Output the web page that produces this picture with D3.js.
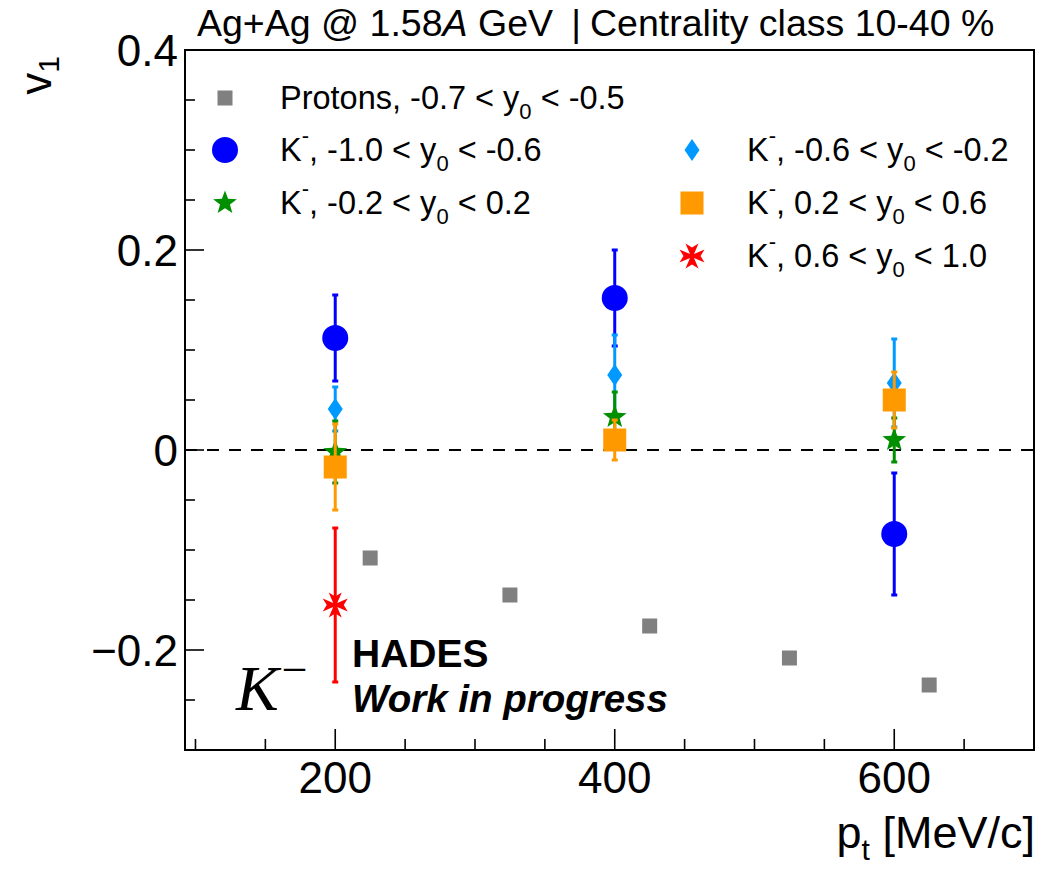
<!DOCTYPE html>
<html>
<head>
<meta charset="utf-8">
<script src="https://cdn.jsdelivr.net/npm/d3@7"></script>
<style>
  html, body { margin: 0; padding: 0; background: #fff; }
  svg { display: block; }
  text { font-family: "Liberation Sans", Arial, Helvetica, sans-serif; fill: #000; }
</style>
</head>
<body>
<svg id="chart" width="1055" height="871"></svg>
<script>
// ---------------- data ----------------
const kaonPt = [200, 400, 600];
const protonPt = [225, 325, 425, 525, 625];
const protonV1 = [-0.108, -0.145, -0.176, -0.208, -0.235];

const kBin1V1 = [0.112, 0.152, -0.084];   // -1.0 < y0 < -0.6
const kBin1Err = [0.043, 0.048, 0.061];
const kBin2V1 = [0.041, 0.075, 0.067];    // -0.6 < y0 < -0.2
const kBin2Err = [0.022, 0.040, 0.044];
const kBin3V1 = [-0.002, 0.033, 0.010];   // -0.2 < y0 < 0.2
const kBin3Err = [0.031, 0.025, 0.022];
const kBin4V1 = [-0.017, 0.010, 0.050];   // 0.2 < y0 < 0.6
const kBin4Err = [0.043, 0.020, 0.028];
const kBin5Pt = [200];                    // 0.6 < y0 < 1.0
const kBin5V1 = [-0.155];
const kBin5Err = [0.077];

const xMajorTicks = [200, 400, 600];
const yMajorTicks = [-0.2, 0, 0.2, 0.4];
const yTickLabels = ["\u22120.2", "0", "0.2", "0.4"];

// ---------------- layout ----------------
const svg = d3.select("#chart");
const L = 185, R = 1034, T = 50, B = 750;
const x = d3.scaleLinear().domain([92.5, 700]).range([L, R]);
const y = d3.scaleLinear().domain([-0.3, 0.4]).range([B, T]);

// frame
svg.append("rect").attr("x", L).attr("y", T).attr("width", R - L).attr("height", B - T)
  .attr("fill", "none").attr("stroke", "#000").attr("stroke-width", 2);

// x ticks (inside, upward)
const xMinor = d3.range(100, 701, 50);
svg.append("g").selectAll("line").data(xMinor).join("line")
  .attr("x1", d => x(d)).attr("x2", d => x(d))
  .attr("y1", B).attr("y2", d => xMajorTicks.includes(d) ? B - 21 : B - 11)
  .attr("stroke", "#000").attr("stroke-width", 1.6);
svg.append("g").selectAll("text").data(xMajorTicks).join("text")
  .attr("x", d => x(d)).attr("y", 793)
  .attr("text-anchor", "middle").attr("font-size", 44)
  .text(d => d);

// y ticks (inside, rightward)
const yMinor = d3.range(-6, 9).map(i => i * 0.05);
svg.append("g").selectAll("line").data(yMinor).join("line")
  .attr("x1", L).attr("x2", d => (Math.abs(Math.round(d * 100)) % 20 === 0) ? L + 19 : L + 10)
  .attr("y1", d => y(d)).attr("y2", d => y(d))
  .attr("stroke", "#000").attr("stroke-width", 1.6);
svg.append("g").selectAll("text").data(yMajorTicks).join("text")
  .attr("x", 178).attr("y", d => y(d) + 16)
  .attr("text-anchor", "end").attr("font-size", 44)
  .text((d, i) => yTickLabels[i]);

// zero dashed line
svg.append("line").attr("x1", L).attr("x2", R).attr("y1", y(0)).attr("y2", y(0))
  .attr("stroke", "#000").attr("stroke-width", 1.8).attr("stroke-dasharray", "12,10");

// axis titles
const yt = svg.append("text").attr("transform", "translate(51,56) rotate(-90)")
  .attr("text-anchor", "end").attr("font-size", 44);
yt.append("tspan").text("v");
yt.append("tspan").attr("font-size", 30).attr("dy", 8).text("1");

const xt = svg.append("text").attr("x", 1035).attr("y", 848)
  .attr("text-anchor", "end").attr("font-size", 45);
xt.append("tspan").text("p");
xt.append("tspan").attr("font-size", 30).attr("dy", 12).text("t");
xt.append("tspan").attr("dy", -12).text(" [MeV/c]");

// title
const titleFont = 37.5;
const tt = svg.append("text").attr("x", 197).attr("y", 36).attr("font-size", titleFont);
tt.append("tspan").text("Ag+Ag @ 1.58");
tt.append("tspan").attr("font-style", "italic").text("A");
tt.append("tspan").text(" GeV");
svg.append("text").attr("x", 576).attr("y", 36).attr("font-size", titleFont).attr("text-anchor", "middle").text("|");
svg.append("text").attr("x", 590).attr("y", 36).attr("font-size", titleFont).text("Centrality class 10-40 %");

// ---------------- marker shapes ----------------
function starPath(ro, ri) {
  const pts = [];
  for (let i = 0; i < 10; i++) {
    const a = -Math.PI / 2 + i * Math.PI / 5;
    const r = i % 2 === 0 ? ro : ri;
    pts.push([r * Math.cos(a), r * Math.sin(a)]);
  }
  return "M" + pts.map(p => p.join(",")).join("L") + "Z";
}
function crossPath(len, half, notch, waist) {
  // plus-shaped cross with flared, notched arms
  const base = [[-waist, -waist], [-half, -len], [0, -len + notch], [half, -len]];
  const pts = [];
  for (let k = 0; k < 4; k++) {
    const a = k * Math.PI / 2;
    base.forEach(q => pts.push([q[0] * Math.cos(a) - q[1] * Math.sin(a), q[0] * Math.sin(a) + q[1] * Math.cos(a)]));
  }
  return "M" + pts.map(q => q.map(v => v.toFixed(2)).join(",")).join("L") + "Z";
}
function drawMarker(g, type, color, cx, cy) {
  if (type === "circle") {
    g.append("circle").attr("cx", cx).attr("cy", cy).attr("r", 13).attr("fill", color);
  } else if (type === "square") {
    g.append("rect").attr("x", cx - 11.5).attr("y", cy - 11.5).attr("width", 23).attr("height", 23).attr("fill", color);
  } else if (type === "smallsquare") {
    g.append("rect").attr("x", cx - 7.5).attr("y", cy - 7.5).attr("width", 15).attr("height", 15).attr("fill", color);
  } else if (type === "diamond") {
    g.append("path").attr("d", `M${cx},${cy - 11}L${cx + 7.5},${cy}L${cx},${cy + 11}L${cx - 7.5},${cy}Z`).attr("fill", color);
  } else if (type === "star") {
    g.append("path").attr("transform", `translate(${cx},${cy})`).attr("d", starPath(12.5, 5.2)).attr("fill", color);
  } else if (type === "cross") {
    g.append("path").attr("transform", `translate(${cx},${cy})`).attr("d", crossPath(12.5, 6.5, 4, 2)).attr("fill", color);
  }
}

// ---------------- series ----------------
const series = [
  { pt: kaonPt, v: kBin1V1, e: kBin1Err, color: "#0000ff", type: "circle", label: ["-1.0", "-0.6"] },
  { pt: kaonPt, v: kBin2V1, e: kBin2Err, color: "#0099ff", type: "diamond", label: ["-0.6", "-0.2"] },
  { pt: kaonPt, v: kBin3V1, e: kBin3Err, color: "#008f00", type: "star", label: ["-0.2", "0.2"] },
  { pt: kaonPt, v: kBin4V1, e: kBin4Err, color: "#ff9900", type: "square", label: ["0.2", "0.6"] },
  { pt: kBin5Pt, v: kBin5V1, e: kBin5Err, color: "#ff0000", type: "cross", label: ["0.6", "1.0"] }
];

// protons
const pg = svg.append("g");
protonPt.forEach((p, i) => drawMarker(pg, "smallsquare", "#808080", x(p), y(protonV1[i])));

series.forEach(s => {
  const g = svg.append("g");
  s.pt.forEach((p, i) => {
    const cx = x(p), y1 = y(s.v[i] + s.e[i]), y0 = y(s.v[i] - s.e[i]);
    g.append("line").attr("x1", cx).attr("x2", cx).attr("y1", y1).attr("y2", y0)
      .attr("stroke", s.color).attr("stroke-width", 3);
    g.append("rect").attr("x", cx - 3).attr("y", y1 - 1.5).attr("width", 6).attr("height", 3).attr("fill", s.color);
    g.append("rect").attr("x", cx - 3).attr("y", y0 - 1.5).attr("width", 6).attr("height", 3).attr("fill", s.color);
    drawMarker(g, s.type, s.color, cx, y(s.v[i]));
  });
});

// ---------------- legend ----------------
const legFont = 32.5;
const subFont = 22;
const lg = svg.append("g");
drawMarker(lg, "smallsquare", "#808080", 225, 98);
{
  const t = lg.append("text").attr("x", 280).attr("y", 109).attr("font-size", legFont);
  t.append("tspan").text("Protons, -0.7 < y");
  t.append("tspan").attr("font-size", subFont).attr("dy", 10).text("0");
  t.append("tspan").attr("dy", -10).text(" < -0.5");
}
const legPos = [[225, 150], [692, 150], [225, 203], [692, 203], [692, 256]];
series.forEach((s, i) => {
  const [mx, my] = legPos[i];
  drawMarker(lg, s.type, s.color, mx, my);
  const t = lg.append("text").attr("x", mx + 55).attr("y", my + 11).attr("font-size", legFont);
  t.append("tspan").text("K");
  t.append("tspan").attr("font-size", subFont).attr("dy", -18).text("-");
  t.append("tspan").attr("dy", 18).text(", " + s.label[0] + " < y");
  t.append("tspan").attr("font-size", subFont).attr("dy", 10).text("0");
  t.append("tspan").attr("dy", -10).text(" < " + s.label[1]);
});

// ---------------- annotations ----------------
const kt = svg.append("text").attr("x", 236).attr("y", 710)
  .style("font-family", "'Liberation Serif', 'Times New Roman', serif").attr("font-style", "italic").attr("font-size", 64);
kt.append("tspan").text("K");
kt.append("tspan").attr("font-style", "normal").attr("font-size", 46).attr("dx", 3).attr("dy", -25).text("\u2212");

svg.append("text").attr("x", 352).attr("y", 667).attr("font-size", 39).attr("font-weight", "bold").text("HADES");
svg.append("text").attr("x", 352).attr("y", 712).attr("font-size", 38.5).attr("font-weight", "bold")
  .attr("font-style", "italic").text("Work in progress");
</script>
</body>
</html>
